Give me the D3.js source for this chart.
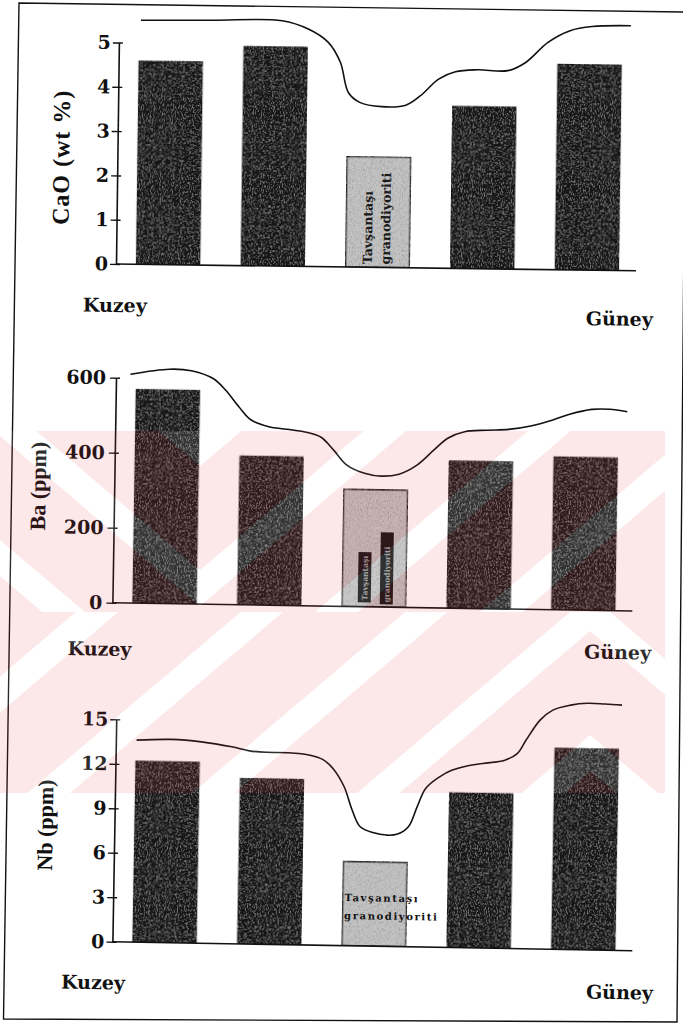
<!DOCTYPE html>
<html><head><meta charset="utf-8">
<script src="https://cdn.jsdelivr.net/npm/d3@7"></script>
<style>html,body{margin:0;padding:0;background:#fff;} svg{display:block;}</style>
</head><body>
<svg id="fig" width="683" height="1032"></svg>
<script>
// ---------------- DATA ----------------
const categories = ["1", "2", "3", "4", "5"];
const highlightIndex = 2;
const unitNameLines = ["Tavşantaşı", "granodiyoriti"];
const northLabel = "Kuzey";
const southLabel = "Güney";

const caoTitle = "CaO (wt %)";
const caoTicks = [0, 1, 2, 3, 4, 5];
const caoValues = [4.6, 4.96, 2.5, 3.67, 4.65];
const caoCurvePos = [-0.29, 0.39, 1.06, 1.31, 1.50, 1.62, 1.70, 1.81, 2.02, 2.25, 2.39, 2.56, 2.72, 2.93, 3.22, 3.39, 3.60, 3.81, 4.02, 4.39];
const caoCurveVal = [5.51, 5.53, 5.54, 5.36, 5.07, 4.62, 3.94, 3.72, 3.63, 3.67, 3.89, 4.27, 4.44, 4.49, 4.48, 4.67, 5.13, 5.40, 5.50, 5.53];

const baTitle = "Ba (ppm)";
const baTicks = [0, 200, 400, 600];
const baValues = [571, 398, 313, 394, 409];
const baCurvePos = [-0.36, 0.01, 0.22, 0.43, 0.55, 0.68, 0.80, 0.97, 1.14, 1.34, 1.47, 1.59, 1.72, 1.89, 2.05, 2.22, 2.39, 2.55, 2.68, 2.84, 3.05, 3.26, 3.47, 3.68, 3.84, 4.05, 4.22, 4.39];
const baCurveVal = [610, 625, 622, 602, 572, 528, 493, 476, 470, 462, 450, 417, 377, 356, 349, 355, 380, 421, 453, 471, 476, 479, 489, 506, 522, 536, 537, 531];

const nbTitle = "Nb (ppm)";
const nbTicks = [0, 3, 6, 9, 12, 15];
const nbValues = [12.24, 11.2, 5.7, 10.47, 13.6];
const nbCurvePos = [-0.30, 0.03, 0.32, 0.61, 0.78, 0.94, 1.15, 1.36, 1.48, 1.58, 1.69, 1.77, 1.85, 1.98, 2.10, 2.20, 2.31, 2.39, 2.47, 2.60, 2.72, 2.85, 3.01, 3.22, 3.34, 3.42, 3.55, 3.67, 3.84, 4.00, 4.17, 4.33];
const nbCurveVal = [13.62, 13.71, 13.58, 13.28, 13.03, 12.95, 12.95, 12.81, 12.54, 11.94, 10.72, 9.16, 8.04, 7.65, 7.51, 7.57, 8.10, 9.45, 10.71, 11.50, 11.97, 12.25, 12.45, 12.70, 13.17, 14.08, 15.44, 16.13, 16.49, 16.63, 16.60, 16.55];

// ---------------- DRAWING ----------------
const svg = d3.select("#fig");
const defs = svg.append("defs");

// faint scan grain for bars
function grainFilter(id, rgb, k, b, seed) {
  const f = defs.append("filter").attr("id", id).attr("x", 0).attr("y", 0).attr("width", 1).attr("height", 1);
  f.append("feTurbulence").attr("type", "fractalNoise").attr("baseFrequency", "0.9 0.45")
    .attr("numOctaves", 2).attr("seed", seed).attr("result", "n");
  f.append("feColorMatrix").attr("in", "n").attr("type", "matrix")
    .attr("values", `0 0 0 0 ${rgb} 0 0 0 0 ${rgb} 0 0 0 0 ${rgb} ${k} 0 0 0 ${b}`).attr("result", "s");
  f.append("feComposite").attr("in", "s").attr("in2", "SourceGraphic").attr("operator", "in").attr("result", "s2");
  const m = f.append("feMerge");
  m.append("feMergeNode").attr("in", "SourceGraphic");
  m.append("feMergeNode").attr("in", "s2");
}
grainFilter("grainDark", 0.45, 1.6, -0.82, 4);
grainFilter("grainLight", 0.25, 2.0, -0.9, 9);

const serifBold = "'DejaVu Serif', serif";
const titleFont = "'Liberation Serif', 'Times New Roman', serif";

// frame of the scanned page
svg.append("path")
  .attr("d", "M19,3 L686,12 L677,1022 L3.5,1019 Z")
  .attr("fill", "none").attr("stroke", "#111").attr("stroke-width", 1.4);

function drawChart(cfg) {
  const g = svg.append("g")
    .attr("transform", `translate(${cfg.ox},${cfg.oy}) rotate(${cfg.angle})`);
  const x = d3.scaleBand().domain(categories).range([0, 523]).paddingInner(0.385).paddingOuter(0.19);
  const y = d3.scaleLinear().domain([0, d3.max(cfg.ticks)]).range([0, -cfg.axisH]);
  const px = d3.scaleLinear().domain([0, categories.length - 1])
    .range([x(categories[0]) + x.bandwidth() / 2, x(categories[categories.length - 1]) + x.bandwidth() / 2]);

  // bars
  g.selectAll("rect.bar").data(cfg.values).join("rect")
    .attr("class", "bar")
    .attr("x", (d, i) => x(categories[i]))
    .attr("y", d => y(d))
    .attr("width", x.bandwidth())
    .attr("height", d => -y(d))
    .attr("fill", (d, i) => i === highlightIndex ? "#c4c4c4" : "#161616")
    .attr("stroke", (d, i) => i === highlightIndex ? "#111" : "none")
    .attr("stroke-width", 2)
    .attr("filter", (d, i) => i === highlightIndex ? "url(#grainLight)" : "url(#grainDark)");

  // axis
  const ax = g.append("g").call(d3.axisLeft(y).tickValues(cfg.ticks).tickFormat(d3.format("d"))
    .tickSizeInner(6).tickSizeOuter(0).tickPadding(cfg.tickPad));
  ax.select(".domain").attr("stroke", "#111").attr("stroke-width", 1.6);
  ax.selectAll(".tick line").attr("x1", 4).attr("x2", -6).attr("stroke", "#111").attr("stroke-width", 1.4);
  ax.selectAll(".tick text").attr("font-family", serifBold).attr("font-weight", "bold")
    .attr("font-size", 19).attr("fill", "#111").attr("x", -cfg.tickPad);
  ax.attr("font-family", null).attr("font-size", null);

  // baseline
  g.append("line").attr("x1", 0).attr("x2", 520).attr("y1", 0).attr("y2", 0)
    .attr("stroke", "#111").attr("stroke-width", 1.6);

  // trend curve
  const pts = cfg.curvePos.map((p, i) => ({ p, v: cfg.curveVal[i] }));
  g.append("path").datum(pts)
    .attr("d", d3.line().x(d => px(d.p)).y(d => y(d.v)).curve(d3.curveCatmullRom.alpha(0.5)))
    .attr("fill", "none").attr("stroke", "#111").attr("stroke-width", 1.6);

  // y title
  g.append("text").text(cfg.title)
    .attr("transform", `translate(${cfg.titleX},${cfg.titleY}) rotate(-90)`)
    .attr("text-anchor", "middle").attr("dy", "0.35em")
    .attr("font-family", titleFont).attr("font-weight", "bold")
    .attr("font-size", cfg.titleSize).attr("letter-spacing", cfg.titleSpacing)
    .attr("fill", "#111");

  // direction labels
  g.append("text").text(northLabel).attr("x", cfg.kuzey[0]).attr("y", cfg.kuzey[1])
    .attr("font-family", serifBold).attr("font-weight", "bold").attr("font-size", 19).attr("fill", "#111");
  g.append("text").text(southLabel).attr("x", cfg.guney[0]).attr("y", cfg.guney[1])
    .attr("font-family", serifBold).attr("font-weight", "bold").attr("font-size", 19).attr("fill", "#111");

  const bx = x(categories[highlightIndex]);
  cfg.unitLabel(g, bx, x.bandwidth());
}

drawChart({
  ox: 116, oy: 264, angle: 0.75, axisH: 221.5, ticks: caoTicks, values: caoValues,
  curvePos: caoCurvePos, curveVal: caoCurveVal, tickPad: 8,
  title: caoTitle, titleX: -56.5, titleY: -106, titleSize: 24, titleSpacing: 1,
  kuzey: [-32.5, 48], guney: [470.5, 55],
  unitLabel: (g, bx, bw) => {
    unitNameLines.forEach((t, i) => {
      g.append("text").text(t)
        .attr("transform", `translate(${bx + 26.5 + i * 18},-3) rotate(-90)`)
        .attr("font-family", serifBold).attr("font-weight", "bold").attr("font-size", 12.5)
        .attr("fill", "#1a1a1a");
    });
  }
});

drawChart({
  ox: 112.4, oy: 602.7, angle: 0.92, axisH: 225, ticks: baTicks, values: baValues,
  curvePos: baCurvePos, curveVal: baCurveVal, tickPad: 10,
  title: baTitle, titleX: -76.3, titleY: -115.5, titleSize: 22, titleSpacing: 0,
  kuzey: [-44, 53], guney: [472.4, 48.3],
  unitLabel: (g, bx, bw) => {
    const boxes = [[bx + 16, -54.7, 13, 50.3], [bx + 38, -74.7, 13, 72]];
    unitNameLines.forEach((t, i) => {
      const b = boxes[i];
      g.append("rect").attr("x", b[0]).attr("y", b[1]).attr("width", b[2]).attr("height", b[3]).attr("fill", "#141414");
      g.append("text").text(t)
        .attr("transform", `translate(${b[0] + 9.5},${b[1] + b[3] - 2}) rotate(-90)`)
        .attr("font-family", serifBold).attr("font-weight", "bold").attr("font-size", 7.6)
        .attr("fill", "#9a9a9a");
    });
  }
});

drawChart({
  ox: 112.4, oy: 941.7, angle: 0.99, axisH: 222.4, ticks: nbTicks, values: nbValues,
  curvePos: nbCurvePos, curveVal: nbCurveVal, tickPad: 8,
  title: nbTitle, titleX: -69.4, titleY: -115.5, titleSize: 22, titleSpacing: 0,
  kuzey: [-50.6, 47.7], guney: [474.4, 48.6],
  unitLabel: (g, bx, bw) => {
    unitNameLines.forEach((t, i) => {
      g.append("text").text(t)
        .attr("x", bx + 2).attr("y", -44.7 + i * 18)
        .attr("font-family", serifBold).attr("font-weight", "bold").attr("font-size", 10)
        .attr("letter-spacing", 1.6).attr("fill", "#111");
    });
  }
});

// ---------------- thesis-archive watermark (translucent chevrons) ----------------
const wm = { x0: 0, x1: 665, y0: 431, y1: 793, ymid: 612, s: 0.85, hw: 18 };
function stripePoly(xv, c, sign) {
  // sign=-1 : V shape (vertex lowest), sign=+1 : ^ shape (vertex highest)
  const yAt = (xx, cc) => cc + sign * wm.s * Math.abs(xx - xv);
  const a = c - wm.hw, b = c + wm.hw;
  return [[wm.x0, yAt(wm.x0, a)], [xv, a], [wm.x1, yAt(wm.x1, a)],
          [wm.x1, yAt(wm.x1, b)], [xv, b], [wm.x0, yAt(wm.x0, b)]];
}
const upperStripes = d3.range(-1, 4).map(k => stripePoly(200, 448 + 140 * k, -1));
const lowerStripes = d3.range(-2, 4).map(k => stripePoly(590, 333 + 140 * k, 1));
defs.append("clipPath").attr("id", "wmUp").append("rect")
  .attr("x", wm.x0).attr("y", wm.y0).attr("width", wm.x1 - wm.x0).attr("height", wm.ymid - wm.y0);
defs.append("clipPath").attr("id", "wmLo").append("rect")
  .attr("x", wm.x0).attr("y", wm.ymid).attr("width", wm.x1 - wm.x0).attr("height", wm.y1 - wm.ymid);
function stripeGroup(parent, fill) {
  const lineGen = d3.line();
  parent.append("g").attr("clip-path", "url(#wmUp)").selectAll("path").data(upperStripes).join("path")
    .attr("d", d => lineGen(d) + "Z").attr("fill", fill);
  parent.append("g").attr("clip-path", "url(#wmLo)").selectAll("path").data(lowerStripes).join("path")
    .attr("d", d => lineGen(d) + "Z").attr("fill", fill);
}
const pinkMask = defs.append("mask").attr("id", "pinkMask");
pinkMask.append("rect").attr("x", wm.x0).attr("y", wm.y0).attr("width", wm.x1 - wm.x0).attr("height", wm.y1 - wm.y0).attr("fill", "#fff");
stripeGroup(pinkMask, "#000");
const whiteMask = defs.append("mask").attr("id", "whiteMask");
stripeGroup(whiteMask, "#fff");

svg.append("rect").attr("x", wm.x0).attr("y", wm.y0).attr("width", wm.x1 - wm.x0).attr("height", wm.y1 - wm.y0)
  .attr("fill", "rgb(228,55,75)").attr("fill-opacity", 0.12).attr("mask", "url(#pinkMask)");
svg.append("rect").attr("x", wm.x0).attr("y", wm.y0).attr("width", wm.x1 - wm.x0).attr("height", wm.y1 - wm.y0)
  .attr("fill", "#fff").attr("fill-opacity", 0.12).attr("mask", "url(#whiteMask)");
</script>
</body></html>
